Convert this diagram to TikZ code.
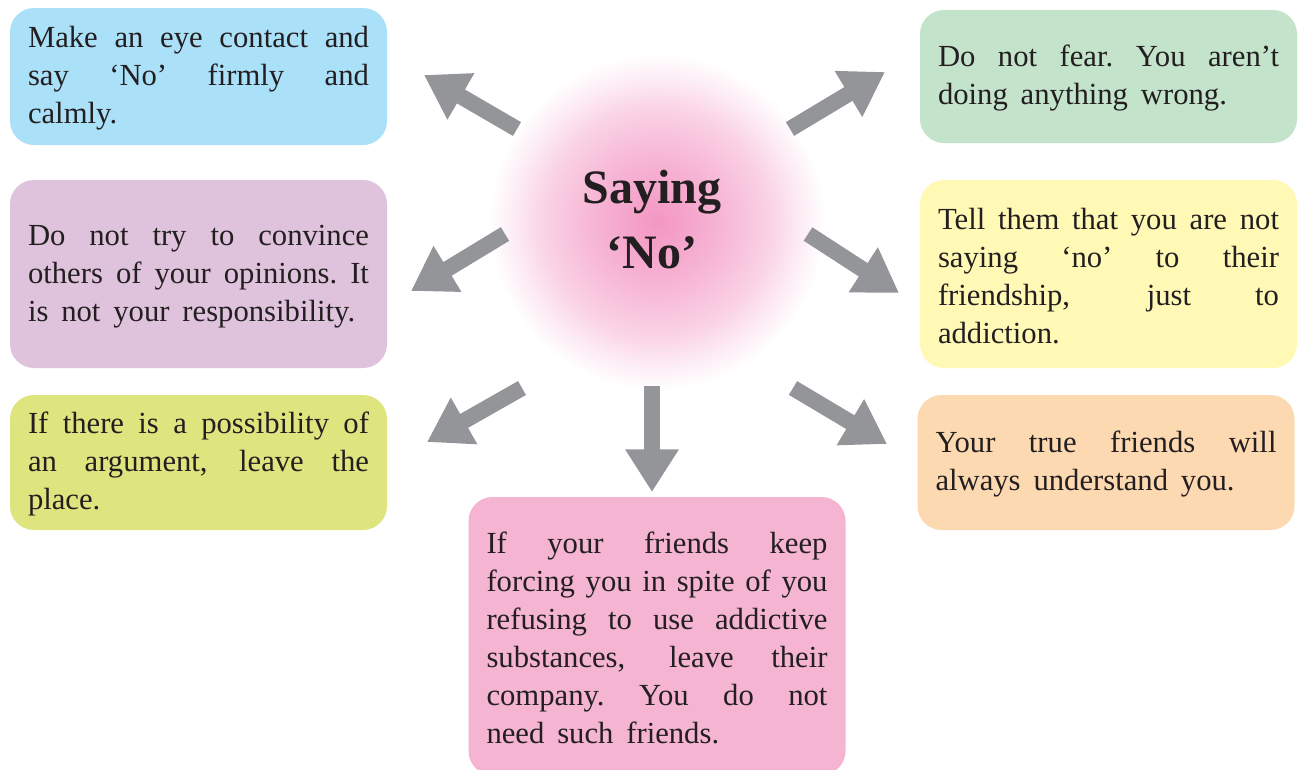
\documentclass[tikz,border=0pt]{standalone}
\usepackage{fontspec}
\setmainfont{Liberation Serif}
\usetikzlibrary{arrows.meta}
\definecolor{cblue}{RGB}{170,224,248}
\definecolor{cpurple}{RGB}{223,194,220}
\definecolor{cyg}{RGB}{222,229,126}
\definecolor{cpink}{RGB}{244,180,210}
\definecolor{cgreen}{RGB}{195,227,203}
\definecolor{cyellow}{RGB}{255,249,181}
\definecolor{corange}{RGB}{253,217,178}
\definecolor{cgray}{RGB}{147,149,152}
\definecolor{ctext}{RGB}{35,31,32}
\definecolor{cglow}{RGB}{243,150,195}
\pgfdeclareradialshading{glow}{\pgfpoint{0bp}{0bp}}{color(0bp)=(cglow); color(5bp)=(cglow!85!white); color(11bp)=(cglow!65!white); color(17bp)=(cglow!42!white); color(21bp)=(cglow!20!white); color(24bp)=(cglow!5!white); color(25bp)=(white); color(50bp)=(white)}
\newlength\tw
\setlength\tw{255.75pt}
\newcommand\jl[1]{\makebox[\tw][s]{\spaceskip=.42em plus 2em minus .1em\xspaceskip=\spaceskip #1}}
\newcommand\lastl[1]{\mbox{\spaceskip=.42em\xspaceskip=\spaceskip #1}}
\tikzset{
  infobox/.style={rounded corners=18pt, text width=\tw, inner xsep=13.5pt, inner ysep=0pt,
    align=left, text=ctext, font=\fontsize{23}{28.5}\selectfont},
  bigarrow/.style={draw=cgray, line width=12pt, -{Triangle[width=38pt,length=32pt]}}
}
\begin{document}
\begin{tikzpicture}[x=0.75pt,y=-0.75pt]
\clip (0,0) rectangle (1298,769);
\fill[white] (0,0) rectangle (1298,769);
% glow
\shade[shading=glow] (657,222) circle (168);
\node[text=ctext, font=\bfseries\fontsize{36}{48.75}\selectfont, align=center] (center) at (652,220) {Saying\\‘No’};

% boxes
\node[infobox, fill=cblue, minimum height=102.75pt] (b1) at (198.5,76.5)
  {\rule{0pt}{19pt}\jl{Make an eye contact and}\\\jl{say ‘No’ firmly and}\\\lastl{calmly.}};
\node[infobox, fill=cpurple, minimum height=141pt] (b2) at (198.5,274)
  {\rule{0pt}{19pt}\jl{Do not try to convince}\\\jl{others of your opinions. It}\\\lastl{is not your responsibility.}};
\node[infobox, fill=cyg, minimum height=101.25pt] (b3) at (198.5,462.5)
  {\rule{0pt}{19pt}\jl{If there is a possibility of}\\\jl{an argument, leave the}\\\lastl{place.}};
\node[infobox, fill=cpink, minimum height=208.5pt] (b4) at (657,636)
  {\rule{0pt}{19pt}\jl{If your friends keep}\\\jl{forcing you in spite of you}\\\jl{refusing to use addictive}\\\jl{substances, leave their}\\\jl{company. You do not}\\\lastl{need such friends.}};
\node[infobox, fill=cgreen, minimum height=99.75pt] (b5) at (1108.5,76.5)
  {\rule{0pt}{19pt}\jl{Do not fear. You aren’t}\\\lastl{doing anything wrong.}};
\node[infobox, fill=cyellow, minimum height=141pt] (b6) at (1108.5,274)
  {\rule{0pt}{19pt}\jl{Tell them that you are not}\\\jl{saying ‘no’ to their}\\\jl{friendship, just to}\\\lastl{addiction.}};
\node[infobox, fill=corange, minimum height=101.25pt] (b7) at (1106,462.5)
  {\rule{0pt}{19pt}\jl{Your true friends will}\\\lastl{always understand you.}};

% arrow endpoints
\coordinate (t1) at (517,129); \coordinate (h1) at (424,75);
\coordinate (t2) at (505,234); \coordinate (h2) at (411,291);
\coordinate (t3) at (522,388); \coordinate (h3) at (427,442);
\coordinate (t4) at (652,386); \coordinate (h4) at (652,492);
\coordinate (t5) at (790,129); \coordinate (h5) at (885,72);
\coordinate (t6) at (808,234); \coordinate (h6) at (899,293);
\coordinate (t7) at (793,388); \coordinate (h7) at (887,444);
\foreach \i in {1,...,7} {\draw[bigarrow] (t\i) -- (h\i);}
\end{tikzpicture}
\end{document}
